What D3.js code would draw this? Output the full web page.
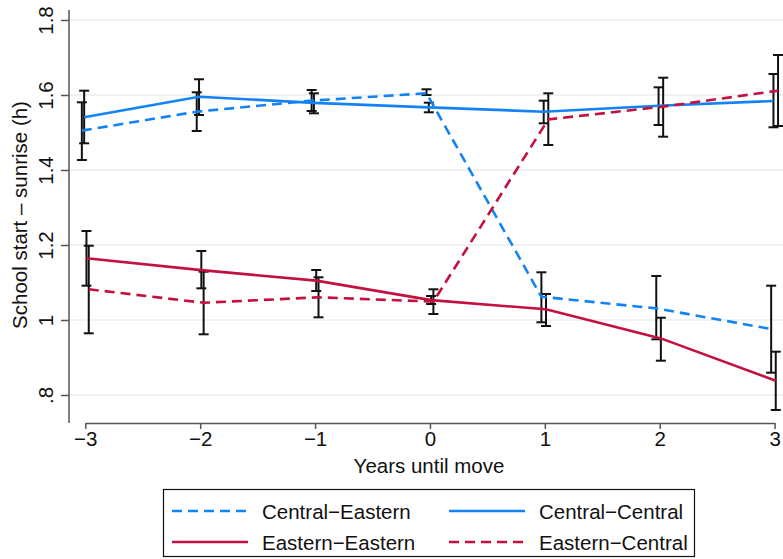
<!DOCTYPE html>
<html><head><meta charset="utf-8">
<script src="https://cdn.jsdelivr.net/npm/d3@7"></script>
<style>body{margin:0;background:#fff}svg{display:block}text{font-family:"Liberation Sans",Arial,sans-serif;fill:#111}</style>
</head><body>
<svg id="c" width="783" height="559"></svg>
<script>
const years = [-3,-2,-1,0,1,2,3];
const yTicks = [0.8,1,1.2,1.4,1.6,1.8];
const yTickLabels = [".8","1","1.2","1.4","1.6","1.8"];
const xTickLabels = ["\u22123","\u22122","\u22121","0","1","2","3"];

const ceMean = [1.505,1.5555,1.585,1.6045,1.062,1.031,0.976];
const ceLo   = [1.4267,1.504,1.5573,1.600,0.9939,0.9485,0.8595];
const ceHi   = [1.5805,1.6072,1.6133,1.6152,1.1272,1.1173,1.0915];

const ccMean = [1.5405,1.5955,1.579,1.567,1.5555,1.5715,1.584];
const ccLo   = [1.4712,1.5467,1.5512,1.5539,1.5245,1.520,1.5139];
const ccHi   = [1.6115,1.6419,1.6045,1.5795,1.5848,1.6205,1.656];

const eeMean = [1.1645,1.133,1.105,1.053,1.0285,0.951,0.838];
const eeLo   = [1.0915,1.0845,1.0773,1.0427,0.984,0.8915,0.760];
const eeHi   = [1.2373,1.184,1.1333,1.064,1.0693,1.0061,0.9155];

const ecMean = [1.082,1.046,1.0605,1.049,1.535,1.569,1.6115];
const ecLo   = [0.9645,0.9619,1.0072,1.016,1.4667,1.4888,1.5173];
const ecHi   = [1.1981,1.1288,1.1139,1.0819,1.6045,1.6461,1.7067];

const blue = "#1283f5", red = "#c4103f";
const series = [
  {name:"Central\u2212Eastern", mean:ceMean, lo:ceLo, hi:ceHi, color:blue, dash:"10,6", off:-0.03},
  {name:"Central\u2212Central", mean:ccMean, lo:ccLo, hi:ccHi, color:blue, dash:null, off:-0.01},
  {name:"Eastern\u2212Eastern", mean:eeMean, lo:eeLo, hi:eeHi, color:red, dash:null, off:0.01},
  {name:"Eastern\u2212Central", mean:ecMean, lo:ecLo, hi:ecHi, color:red, dash:"10,6", off:0.03}
];

const FS = "20.5px";
const svg = d3.select("#c");
const x = d3.scaleLinear().domain([-3,3]).range([85.3,774.6]);
const y = d3.scaleLinear().domain([0.8,1.8]).range([395,20]);

// grid
svg.append("g").selectAll("line").data(yTicks).join("line")
  .attr("x1",69).attr("x2",783).attr("y1",d=>y(d)).attr("y2",d=>y(d))
  .attr("stroke","#e8eef2").attr("stroke-width",1.5);

// y axis
const ya = svg.append("g").attr("transform","translate(69,0)")
  .call(d3.axisLeft(y).tickValues(yTicks).tickFormat((d,i)=>yTickLabels[i]).tickSize(8).tickPadding(6));
ya.select(".domain").remove();
ya.append("line").attr("x1",0).attr("x2",0).attr("y1",10).attr("y2",423).attr("stroke","#555").attr("stroke-width",1.5);
ya.selectAll(".tick line").attr("stroke","#555").attr("stroke-width",1.5);
ya.selectAll(".tick text").attr("x",null).attr("dy",null).attr("y",0)
  .attr("text-anchor","middle").attr("transform","translate(-24,0) rotate(-90)")
  .attr("dominant-baseline","central").style("font-size",FS).style("font-family","'Liberation Sans',Arial,sans-serif").attr("fill","#111");

// x axis
const xa = svg.append("g").attr("transform","translate(0,423)")
  .call(d3.axisBottom(x).tickValues(years).tickFormat((d,i)=>xTickLabels[i]).tickSize(6).tickPadding(2).tickSizeOuter(0));
xa.select(".domain").attr("stroke","#555").attr("stroke-width",1.5);
xa.selectAll(".tick line").attr("stroke","#555").attr("stroke-width",1.5);
xa.selectAll(".tick text").style("font-size",FS).style("font-family","'Liberation Sans',Arial,sans-serif").attr("fill","#111");

// axis titles
svg.append("text").attr("x",429).attr("y",473).attr("text-anchor","middle").style("font-size",FS).text("Years until move");
svg.append("text").attr("transform","translate(19,215) rotate(-90)").attr("text-anchor","middle").attr("dominant-baseline","central").style("font-size",FS).text("School start \u2013 sunrise (h)");

// error bars
const cap = 5;
series.forEach(s=>{
  const g = svg.append("g").attr("stroke","#111").attr("stroke-width",2);
  years.forEach((yr,i)=>{
    const cx = x(yr+s.off);
    g.append("line").attr("x1",cx).attr("x2",cx).attr("y1",y(s.lo[i])).attr("y2",y(s.hi[i]));
    g.append("line").attr("x1",cx-cap).attr("x2",cx+cap).attr("y1",y(s.lo[i])).attr("y2",y(s.lo[i]));
    g.append("line").attr("x1",cx-cap).attr("x2",cx+cap).attr("y1",y(s.hi[i])).attr("y2",y(s.hi[i]));
  });
});

// lines
const line = d3.line().x(d=>d[0]).y(d=>d[1]);
series.forEach(s=>{
  svg.append("path").attr("d",line(years.map((yr,i)=>[x(yr+s.off),y(s.mean[i])])))
    .attr("fill","none").attr("stroke",s.color).attr("stroke-width",2.6)
    .attr("stroke-dasharray",s.dash);
});

// legend
const lg = svg.append("g");
lg.append("rect").attr("x",163.5).attr("y",489.5).attr("width",531).attr("height",67)
  .attr("fill","#fff").attr("stroke","#111").attr("stroke-width",1.2);
const pos = [[172,511],[449,511],[172,542],[449,542]];
series.forEach((s,i)=>{
  const [lx,ly] = pos[i];
  lg.append("line").attr("x1",lx).attr("x2",lx+76).attr("y1",ly).attr("y2",ly)
    .attr("stroke",s.color).attr("stroke-width",2.6).attr("stroke-dasharray",s.dash);
  lg.append("text").attr("x",lx+90).attr("y",ly).attr("dominant-baseline","central").style("font-size",FS).text(s.name);
});
</script>
</body></html>
